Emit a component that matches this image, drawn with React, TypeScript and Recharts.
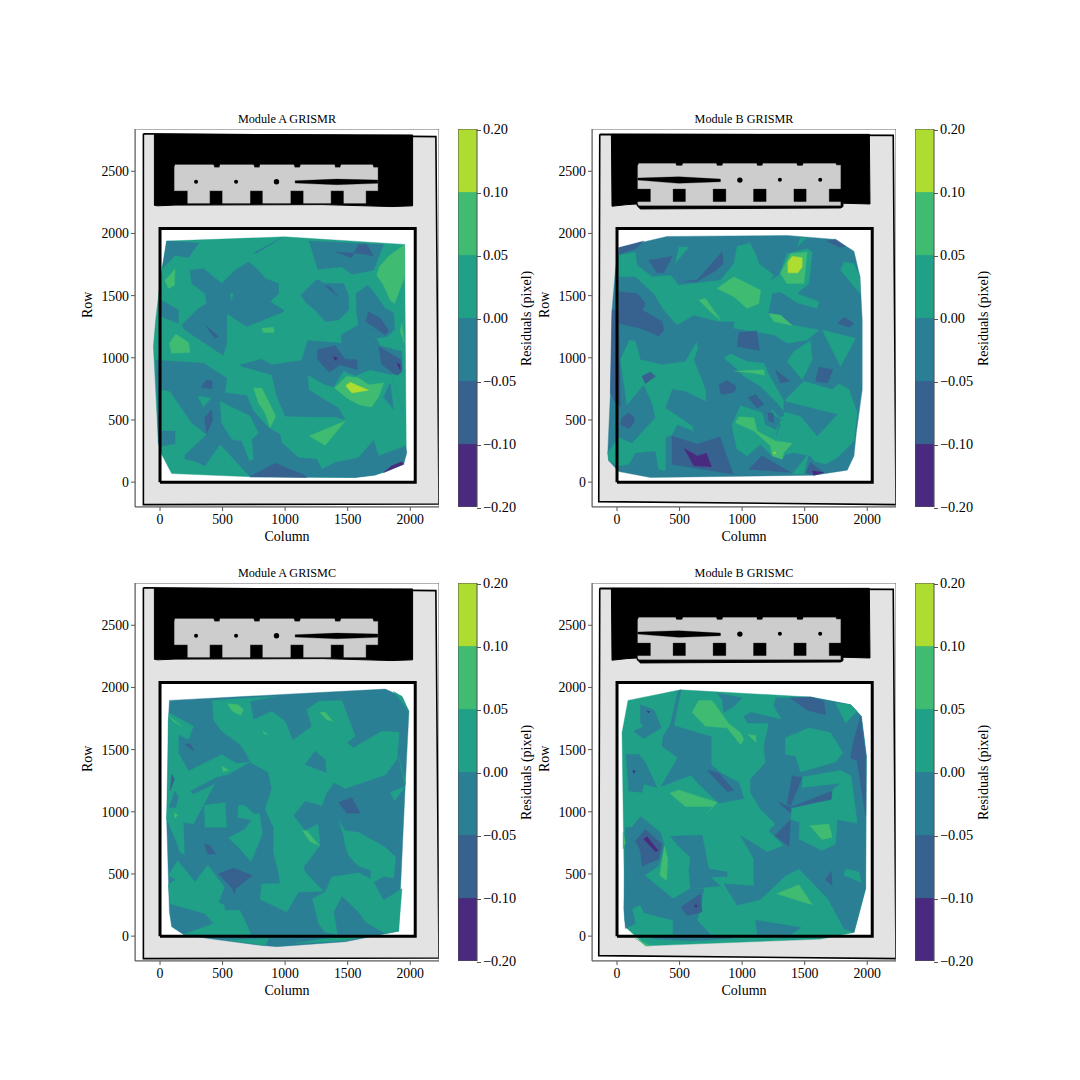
// Residual maps for the four grism modes, drawn as layered filled contours
import { ScatterChart, Scatter, XAxis, YAxis } from "recharts"

type Pt = number[]
type Contour = [number, Pt[]]

const FONT = "'Liberation Serif', serif"

const xTicks = [0, 500, 1000, 1500, 2000]
const yTicks = [0, 500, 1000, 1500, 2000, 2500]
const xDomain = [-200, 2230]
const yDomain = [-200, 2840]

const bandLabels = ["\u22120.20", "\u22120.10", "\u22120.05", "0.00", "0.05", "0.10", "0.20"]
const bandColors = ["#4a2a7e", "#37618f", "#2a7f94", "#21a088", "#40bb72", "#aedc30"]
const bandTicks = [0, 1, 2, 3, 4, 5, 6]

const plotBox: Pt[] = [[-200, -200], [2230, -200], [2230, 2840], [-200, 2840]]
const detectorBox: Pt[] = [[0, 0], [2040, 0], [2040, 2040], [0, 2040]]

// mask outline, module A
const frameA: Pt[] = [[-133, 2802], [2205, 2779], [2230, -176], [-133, -181]]
const blackA: Pt[] = [[-45, 2797], [2019, 2792], [2019, 2222], [1853, 2216], [1300, 2232], [120, 2228], [-20, 2222], [-45, 2226]]
const openingA: Pt[] = [
  [115, 2531], [120, 2552], [427, 2552], [435, 2531], [475, 2531], [480, 2552], [747, 2552], [755, 2531], [795, 2531], [800, 2552],
  [1069, 2552], [1077, 2531], [1117, 2531], [1125, 2552], [1395, 2552], [1400, 2531], [1440, 2531], [1448, 2552], [1699, 2552], [1707, 2531],
  [1741, 2531], [1741, 2344], [1645, 2344], [1645, 2243], [1469, 2243], [1469, 2344], [1365, 2344], [1365, 2243], [1147, 2243], [1147, 2344],
  [1043, 2344], [1043, 2243], [821, 2243], [821, 2344], [720, 2344], [720, 2243], [499, 2243], [499, 2344], [397, 2344], [397, 2243],
  [221, 2243], [221, 2344], [115, 2344],
]
const slitA: Pt[] = [[1080, 2424], [1413, 2437], [1741, 2429], [1741, 2403], [1413, 2392], [1080, 2405]]
const holesA: Pt[] = [[288, 2416], [608, 2416]]
const bigHolesA: Pt[] = [[931, 2416]]

// mask outline, module B
const frameB: Pt[] = [[-138, 2797], [2208, 2789], [2230, -181], [-146, -157]]
const blackB: Pt[] = [[-45, 2797], [2017, 2797], [2022, 2237], [1806, 2243], [1806, 2216], [1787, 2205], [187, 2197], [160, 2224], [160, 2237], [80, 2232], [-40, 2219]]
const openingB: Pt[] = [
  [166, 2544], [174, 2563], [467, 2563], [475, 2544], [520, 2544], [528, 2563], [792, 2563], [800, 2544], [840, 2544], [848, 2563],
  [1115, 2563], [1120, 2544], [1160, 2544], [1168, 2563], [1435, 2563], [1440, 2544], [1483, 2544], [1491, 2563], [1747, 2563], [1755, 2549],
  [1787, 2549], [1787, 2224], [174, 2224], [166, 2237],
]
const padsB: Pt[][] = [
  [[160, 2357], [267, 2357], [267, 2256], [160, 2256]],
  [[448, 2357], [547, 2357], [547, 2256], [448, 2256]],
  [[768, 2357], [870, 2357], [870, 2256], [768, 2256]],
  [[1091, 2357], [1192, 2357], [1192, 2256], [1091, 2256]],
  [[1414, 2357], [1512, 2357], [1512, 2256], [1414, 2256]],
  [[1696, 2357], [1793, 2357], [1793, 2256], [1696, 2256]],
]
const slitB: Pt[] = [[166, 2445], [494, 2456], [827, 2437], [827, 2416], [494, 2403], [166, 2429]]
const holesB: Pt[] = [[1302, 2432], [1624, 2432]]
const bigHolesB: Pt[] = [[982, 2429]]

// band index 0..5 and the outline of each filled region, painted in order
const contoursAR: Contour[] = [
  [3, [[53, 1939], [995, 1973], [1955, 1912], [1968, 291], [1947, 144], [1787, 77], [1693, 56], [1560, 37], [720, 43], [93, 69], [8, 232], [-13, 317], [-53, 1091], [-35, 1304], [13, 1704]]],
  [2, [[53, 1939], [312, 1923], [227, 1805], [120, 1824], [19, 1717]]],
  [2, [[747, 1843], [973, 1965], [773, 1843]]],
  [2, [[1192, 1939], [1787, 1912], [1733, 1771], [1707, 1704], [1533, 1672], [1453, 1731], [1261, 1712]]],
  [1, [[1405, 1851], [1533, 1805], [1587, 1912], [1653, 1912], [1707, 1819], [1619, 1837]]],
  [4, [[1955, 1912], [1827, 1816], [1752, 1731], [1733, 1664], [1787, 1584], [1840, 1464], [1875, 1437], [1955, 1651]]],
  [4, [[40, 1624], [120, 1712], [115, 1584], [67, 1557]]],
  [2, [[240, 1704], [347, 1717], [493, 1597], [600, 1704], [707, 1771], [787, 1704], [840, 1637], [947, 1597], [947, 1517], [880, 1451], [987, 1384], [987, 1371], [693, 1251], [533, 1357], [533, 1117], [507, 1019], [200, 1224], [173, 1264], [293, 1384], [373, 1437], [360, 1517], [253, 1597]]],
  [3, [[560, 1517], [587, 1517], [573, 1464]]],
  [2, [[8, 1464], [147, 1384], [147, 1277], [13, 1331]]],
  [2, [[1125, 1504], [1253, 1629], [1320, 1597], [1467, 1597], [1507, 1504], [1507, 1384], [1427, 1304], [1320, 1291], [1240, 1384], [1173, 1437]]],
  [1, [[1320, 1579], [1360, 1571], [1421, 1491]]],
  [2, [[1565, 1517], [1661, 1584], [1707, 1531], [1800, 1397], [1867, 1363], [1875, 1224], [1813, 1171], [1733, 1157], [1587, 1264], [1568, 1384], [1573, 1411]]],
  [1, [[1645, 1291], [1667, 1371], [1760, 1317], [1827, 1219], [1800, 1184], [1707, 1251]]],
  [2, [[640, 944], [813, 989], [893, 944], [1133, 979], [1181, 1139], [1453, 1117], [1448, 1184], [1587, 1264], [1733, 1149], [1760, 1096], [1933, 1051], [1947, 531], [1853, 864], [1680, 904], [1560, 856], [1467, 896], [1387, 765], [1320, 784], [1181, 864], [1187, 744], [1320, 659], [1427, 597], [1475, 504], [1400, 525], [1187, 525], [1000, 531], [933, 691], [893, 864], [653, 931]]],
  [1, [[1261, 1064], [1400, 1096], [1480, 989], [1573, 984], [1579, 904], [1440, 944], [1352, 883], [1261, 984]]],
  [0, [[1387, 1011], [1419, 997], [1400, 979]]],
  [1, [[1747, 1091], [1928, 984], [1939, 584], [1920, 837], [1773, 944]]],
  [0, [[1893, 957], [1920, 944], [1920, 904]]],
  [3, [[1853, 864], [1947, 531], [1960, 900], [1900, 860]]],
  [2, [[1840, 797], [1787, 685], [1867, 584]]],
  [4, [[1395, 757], [1493, 851], [1587, 837], [1667, 784], [1787, 797], [1747, 685], [1688, 603], [1587, 624], [1493, 677]]],
  [5, [[1485, 776], [1520, 803], [1667, 739], [1533, 717]]],
  [4, [[1933, 1277], [1955, 1117], [1920, 1211]]],
  [4, [[75, 1117], [125, 1189], [227, 1125], [240, 1043], [93, 1037]]],
  [4, [[813, 1237], [907, 1245], [912, 1203], [827, 1203]]],
  [1, [[360, 1264], [467, 1171], [440, 1157]]],
  [2, [[-35, 984], [8, 979], [8, 264], [-13, 317]]],
  [2, [[8, 979], [347, 957], [533, 837], [520, 717], [693, 696], [747, 571], [867, 437], [960, 384], [973, 317], [1107, 197], [1253, 184], [1293, 104], [1400, 157], [1587, 197], [1707, 336], [1747, 211], [1965, 291], [1973, 237], [1947, 144], [1720, 56], [1560, 37], [720, 43], [480, 304], [360, 131], [267, 171], [200, 184], [200, 219], [373, 384], [253, 477], [80, 731], [8, 744]]],
  [1, [[720, 43], [920, 152], [1147, 59], [1173, 37]]],
  [0, [[1787, 77], [1947, 144], [1933, 163], [1853, 131]]],
  [3, [[480, 651], [640, 571], [720, 531], [787, 392], [733, 344], [747, 184], [715, 171], [653, 331], [573, 344], [493, 477]]],
  [1, [[413, 584], [419, 491], [373, 392], [355, 517]]],
  [1, [[328, 765], [373, 824], [419, 811], [413, 749]]],
  [3, [[301, 691], [408, 677], [347, 605]]],
  [2, [[13, 411], [120, 411], [120, 309], [13, 291]]],
  [4, [[1192, 371], [1480, 491], [1360, 344], [1320, 296]]],
  [4, [[747, 757], [813, 757], [925, 531], [880, 437], [840, 557], [787, 637]]],
]

const contoursBR: Contour[] = [
  [2, [[14, 1885], [400, 1976], [1360, 1984], [1747, 1952], [1894, 1856], [1942, 1651], [1960, 1304], [1960, 744], [1913, 397], [1894, 211], [1840, 96], [1574, 56], [267, 37], [14, 85], [-66, 171], [-74, 237], [-53, 717], [-40, 1384], [-13, 1704]]],
  [3, [[14, 1824], [147, 1851], [160, 1744], [280, 1651], [427, 1664], [494, 1584], [614, 1597], [827, 1624], [934, 1757], [960, 1896], [1062, 1923], [1107, 1837], [1134, 1757], [1254, 1664], [1214, 1611], [1294, 1664], [1360, 1837], [1520, 1877], [1560, 1851], [1534, 1597], [1440, 1517], [1614, 1451], [1600, 1397], [1440, 1442], [1307, 1531], [1240, 1517], [1214, 1384], [1206, 1357], [1400, 1264], [1614, 1224], [1520, 1144], [1360, 1117], [1254, 1184], [934, 1237], [939, 1291], [814, 1291], [614, 1344], [480, 1264], [374, 1384], [294, 1517], [147, 1651], [14, 1651]]],
  [1, [[14, 1885], [214, 1939], [147, 1877], [27, 1837]]],
  [1, [[1747, 1952], [1827, 1896], [1774, 1891], [1675, 1939]]],
  [1, [[254, 1784], [440, 1816], [374, 1683], [320, 1683]]],
  [1, [[640, 1624], [840, 1851], [848, 1757], [774, 1691], [627, 1611], [534, 1616]]],
  [3, [[467, 1763], [494, 1891], [574, 1891]]],
  [3, [[1440, 1896], [1520, 1965], [1467, 1965]]],
  [3, [[1787, 1704], [1814, 1771], [1894, 1757], [1942, 1651], [1942, 1517]]],
  [4, [[800, 1557], [934, 1651], [1147, 1544], [1134, 1437], [1040, 1397], [934, 1491]]],
  [4, [[654, 1464], [707, 1477], [827, 1304], [747, 1371]]],
  [4, [[1307, 1677], [1387, 1837], [1520, 1851], [1494, 1597], [1360, 1597]]],
  [5, [[1366, 1771], [1400, 1816], [1480, 1805], [1480, 1731], [1446, 1683], [1366, 1683]]],
  [4, [[1214, 1357], [1307, 1344], [1400, 1259], [1254, 1291]]],
  [1, [[14, 1531], [160, 1517], [227, 1437], [200, 1384], [360, 1291], [374, 1224], [334, 1176], [187, 1237], [14, 1277]]],
  [1, [[-40, 1384], [14, 1384], [27, 611], [-13, 637], [-53, 717]]],
  [3, [[14, 357], [120, 312], [307, 517], [280, 637], [214, 784], [80, 624], [27, 984], [102, 1144], [147, 1131], [187, 984], [360, 944], [547, 971], [635, 1125], [646, 1077], [614, 984], [707, 744], [712, 651], [547, 731], [440, 749], [387, 597], [600, 451], [614, 411], [480, 464], [440, 384], [387, 357], [387, 91], [334, 104], [307, 251], [147, 237], [94, 144], [14, 131], [-66, 171], [-74, 237]]],
  [1, [[40, 517], [94, 557], [139, 517], [134, 477], [94, 429], [27, 464]]],
  [1, [[200, 851], [267, 885], [307, 851], [227, 792]]],
  [3, [[854, 997], [907, 1032], [1040, 971], [1174, 957], [1214, 864], [1334, 651], [1334, 571], [1280, 637], [1147, 771], [1014, 851], [934, 931]]],
  [4, [[939, 891], [1174, 904], [1179, 859], [1094, 877]]],
  [1, [[1267, 904], [1382, 811], [1307, 797]]],
  [3, [[1347, 664], [1494, 811], [1720, 744], [1774, 792], [1854, 744], [1920, 557], [1894, 331], [1760, 197], [1667, 144], [1574, 171], [1547, 211], [1414, 237], [1360, 224], [1294, 264], [1280, 397], [1307, 451], [1294, 517], [1334, 531]]],
  [2, [[1334, 651], [1760, 544], [1600, 371], [1467, 531], [1334, 571]]],
  [3, [[1360, 971], [1414, 1051], [1547, 1139], [1560, 984], [1480, 824]]],
  [3, [[1640, 1224], [1907, 1157], [1787, 931]]],
  [1, [[1587, 811], [1614, 925], [1726, 904], [1680, 797]]],
  [1, [[1760, 1277], [1814, 1325], [1894, 1277], [1854, 1245]]],
  [1, [[974, 1203], [1115, 1216], [1139, 1059], [960, 1091]]],
  [1, [[814, 784], [880, 816], [955, 771], [934, 723], [832, 704]]],
  [1, [[1048, 677], [1107, 704], [1174, 624], [1120, 597]]],
  [3, [[920, 464], [987, 616], [1160, 557], [1187, 464], [1240, 584], [1307, 504], [1267, 384], [1408, 312], [1320, 184], [1227, 224], [1147, 304], [1040, 211], [960, 264], [928, 397]]],
  [2, [[1174, 584], [1312, 504], [1267, 424], [1187, 464]]],
  [1, [[1206, 557], [1248, 557], [1254, 477], [1214, 491]]],
  [4, [[947, 477], [974, 525], [1094, 517], [1120, 411], [1267, 331], [1400, 312], [1334, 237], [1320, 184], [1240, 211], [1227, 291], [1094, 411]]],
  [5, [[1254, 243], [1270, 237], [1254, 224]]],
  [1, [[440, 371], [640, 304], [822, 365], [928, 64], [440, 144]]],
  [0, [[539, 269], [640, 211], [715, 232], [755, 123], [614, 131]]],
  [1, [[1054, 104], [1160, 211], [1387, 77]]],
  [3, [[1400, 64], [1534, 232], [1494, 64]]],
  [1, [[1507, 77], [1547, 157], [1654, 77], [1574, 56]]],
  [0, [[1560, 91], [1654, 77], [1574, 56]]],
]

const contoursAC: Contour[] = [
  [2, [[75, 1896], [1800, 1987], [1934, 1928], [1990, 1808], [1960, 1208], [1907, 40], [1480, -45], [933, -85], [787, -72], [387, -19], [187, 13], [93, 75], [75, 195], [53, 941], [67, 1741]]],
  [3, [[419, 1896], [427, 1741], [493, 1648], [640, 1541], [693, 1461], [720, 1400], [867, 1315], [893, 1181], [840, 1021], [907, 875], [907, 675], [947, 515], [960, 421], [813, 421], [800, 296], [1013, 195], [1107, 355], [1307, 360], [1160, 515], [1147, 555], [1280, 728], [1261, 901], [1160, 848], [1067, 968], [1160, 1088], [1293, 1048], [1333, 1155], [1392, 1235], [1480, 1187], [1800, 1296], [1894, 1421], [1912, 1640], [1773, 1648], [1547, 1515], [1493, 1555], [1560, 1608], [1453, 1896], [1267, 1888], [1173, 1821], [1213, 1688], [1061, 1573], [1000, 1728], [893, 1808], [747, 1741], [720, 1888]]],
  [3, [[419, 1896], [720, 1888], [920, 1928]]],
  [2, [[1160, 1381], [1240, 1488], [1320, 1421], [1328, 1315]]],
  [2, [[1027, 1795], [1067, 1848], [1067, 1763]]],
  [4, [[539, 1869], [627, 1861], [667, 1821], [645, 1776], [579, 1808]]],
  [4, [[1275, 1800], [1320, 1800], [1381, 1728], [1333, 1741]]],
  [4, [[827, 1648], [859, 1621], [827, 1629]]],
  [1, [[200, 1541], [240, 1547], [272, 1488]]],
  [3, [[75, 1795], [267, 1688], [227, 1581], [147, 1621], [147, 1475], [227, 1328], [493, 1461], [613, 1389], [720, 1400], [547, 1301], [453, 1280], [240, 1168], [267, 1141], [435, 1221], [267, 901], [187, 915], [195, 661], [160, 675], [133, 755], [53, 941], [67, 1288], [67, 1741]]],
  [1, [[93, 1301], [115, 1261], [80, 1168]]],
  [2, [[120, 1168], [147, 1115], [125, 1035], [72, 1035]]],
  [4, [[112, 995], [141, 973], [120, 949]]],
  [4, [[493, 1368], [547, 1336], [507, 1320]]],
  [4, [[72, 1768], [173, 1688], [107, 1728]]],
  [3, [[355, 1053], [520, 1075], [533, 875], [360, 875]]],
  [3, [[627, 1053], [675, 1053], [755, 981], [795, 987], [819, 821], [728, 600], [627, 715], [547, 789], [680, 861], [733, 936], [621, 955]]],
  [3, [[67, 488], [141, 608], [280, 435], [381, 573], [515, 395], [467, 275], [512, 248], [520, 208], [640, 208], [728, 13], [187, 13], [427, 101], [360, 181], [80, 261], [67, 413], [125, 456]]],
  [3, [[1427, 936], [1480, 848], [1587, 835], [1800, 715], [1885, 635], [1867, 469], [1787, 480], [1707, 435], [1787, 288], [1934, 381], [1907, 40], [1800, 21], [1640, 115], [1587, 195], [1453, 323], [1387, 195], [1419, 13], [1320, 29], [1267, 101], [1219, 301], [1320, 355], [1373, 475], [1587, 509], [1680, 461], [1688, 528], [1587, 563], [1507, 648], [1480, 728], [1467, 808]]],
  [4, [[1139, 848], [1173, 848], [1272, 728], [1200, 760]]],
  [1, [[1427, 1075], [1533, 1115], [1600, 989], [1493, 989]]],
  [1, [[467, 501], [587, 547], [739, 488], [605, 381], [595, 341], [579, 381]]],
  [1, [[355, 741], [400, 728], [445, 661], [381, 661]]],
  [3, [[1840, 1155], [1960, 1203], [1875, 1088]]],
  [3, [[547, -32], [840, -77], [867, -19]]],
  [3, [[1080, -59], [1480, -37], [1627, -5], [1320, -19]]],
  [3, [[1867, 1968], [1934, 1928], [1987, 1808], [1920, 1901]]],
  [3, [[1907, 1448], [1965, 1221], [1955, 1221]]],
]

const contoursBC: Contour[] = [
  [3, [[88, 1896], [507, 1981], [1547, 1923], [1867, 1861], [1953, 1768], [1993, 1448], [1987, 381], [1894, 29], [1627, -24], [235, -78], [80, 61], [62, 128], [40, 1635]]],
  [2, [[187, 1861], [294, 1821], [355, 1675], [214, 1589], [134, 1648], [214, 1688], [187, 1715]]],
  [2, [[72, 1461], [174, 1461], [227, 1395], [320, 1195], [214, 1221], [200, 1155], [94, 1168]]],
  [2, [[486, 1968], [512, 1981], [454, 1693], [752, 1603], [752, 1381], [827, 1315], [974, 1235], [1014, 1107], [814, 1069], [654, 1221], [592, 1296], [352, 1203], [486, 1435], [360, 1528], [368, 1608], [427, 1701]]],
  [1, [[720, 1336], [814, 1309], [934, 1173], [880, 1163], [787, 1261]]],
  [2, [[800, 1955], [1000, 1915], [934, 1848], [854, 1800], [840, 1901]]],
  [2, [[1014, 1768], [1067, 1800], [1320, 1741], [1227, 1715], [1040, 1715]]],
  [2, [[1267, 1915], [1547, 1923], [1867, 1861], [1953, 1768], [1993, 1448], [1987, 381], [1894, 29], [1814, 61], [1686, 301], [1454, 541], [1347, 488], [1147, 296], [960, 248], [854, 421], [1094, 403], [1094, 621], [987, 808], [1120, 728], [1200, 675], [1334, 728], [1214, 848], [1267, 901], [1147, 1021], [1067, 1155], [1067, 1261], [1187, 1395], [1174, 1528], [1214, 1715], [1320, 1741], [1254, 1848]]],
  [3, [[1747, 1875], [1867, 1861], [1920, 1808], [1827, 1715]]],
  [3, [[1347, 1595], [1534, 1675], [1707, 1635], [1806, 1475], [1747, 1400], [1467, 1320], [1427, 1448], [1347, 1461]]],
  [3, [[1480, 1280], [1787, 1333], [1872, 1288], [1920, 909], [1760, 936], [1747, 741], [1640, 688], [1454, 781], [1459, 915], [1387, 941], [1400, 1027], [1712, 1096], [1712, 1168], [1787, 1229], [1480, 1195]]],
  [1, [[1387, 1035], [1720, 1168], [1712, 1101]]],
  [1, [[1360, 1061], [1400, 1288], [1480, 1275], [1387, 1048]]],
  [1, [[1286, 1080], [1387, 1035], [1387, 989]]],
  [1, [[1262, 808], [1387, 936], [1374, 723]]],
  [4, [[1542, 888], [1694, 901], [1720, 795], [1640, 776]]],
  [3, [[1814, 488], [1827, 541], [1934, 515], [1953, 429], [1854, 475]]],
  [1, [[1667, 456], [1712, 523], [1720, 408]]],
  [2, [[1107, 128], [1472, 69], [1387, 13], [1120, 13]]],
  [4, [[1275, 341], [1454, 413], [1560, 253], [1360, 315]]],
  [1, [[1387, 1915], [1547, 1923], [1654, 1888], [1667, 1781], [1520, 1816]]],
  [1, [[1947, 1768], [1987, 1448], [1987, 968], [1920, 1408], [1867, 1435], [1894, 1581]]],
  [2, [[67, 875], [120, 875], [187, 963], [347, 835], [379, 728], [334, 568], [222, 488], [448, 301], [587, 381], [694, 381], [667, 221], [640, 128], [747, 13], [448, 13], [448, 128], [214, 189], [187, 253], [120, 221], [147, 101], [67, 61], [54, 221]]],
  [2, [[427, 803], [680, 813], [734, 541], [880, 515], [880, 480], [747, 475], [827, 403], [587, 381], [574, 528], [587, 635], [486, 728]]],
  [1, [[147, 768], [227, 856], [360, 741], [334, 621], [200, 563], [187, 688]]],
  [0, [[214, 781], [240, 800], [328, 688], [307, 680]]],
  [4, [[342, 488], [379, 728], [406, 621], [395, 448]]],
  [1, [[512, 235], [667, 341], [680, 195], [560, 163]]],
  [0, [[619, 248], [640, 248], [632, 227]]],
  [4, [[422, 1149], [494, 1176], [800, 1075], [720, 989], [774, 1043], [547, 1043]]],
  [4, [[600, 1800], [654, 1896], [760, 1896], [894, 1709], [987, 1635], [1014, 1581], [987, 1541], [880, 1675], [707, 1688]]],
  [4, [[1046, 1621], [1107, 1613], [1112, 1560]]],
  [4, [[147, -19], [267, -78], [227, -78], [187, -45]]],
  [2, [[267, -19], [427, 8], [747, 8], [934, -19], [587, -40]]],
  [4, [[48, 835], [67, 755], [48, 701]]],
  [0, [[240, 1808], [262, 1808], [251, 1795]]],
  [0, [[126, 1333], [147, 1328], [134, 1309]]],
]

const NoMark = () => null
const SmallHole = (p: any) => <circle cx={p.cx} cy={p.cy} r={2} fill="#000" />
const BigHole = (p: any) => <circle cx={p.cx} cy={p.cy} r={2.7} fill="#000" />

const asData = (pts: Pt[]) => [...pts, pts[0]].map(([x, y]) => ({ x, y }))

// a closed outline drawn as the joining line of a scatter series, so it goes through the axis scales
function region(key: string, pts: Pt[], fill: string, stroke: string, strokeWidth: number) {
  return (
    <Scatter
      key={key}
      data={asData(pts)}
      line={{ fill, stroke, strokeWidth, strokeLinejoin: "miter" }}
      shape={NoMark}
      legendType="none"
      isAnimationActive={false}
    />
  )
}

const tickStyle = { fontSize: 13.8, fill: "#000", fontFamily: FONT }
const labelStyle = { fontSize: 14, fill: "#000", fontFamily: FONT }

interface PanelProps {
  title: string
  left: number
  top: number
  module: "A" | "B"
  contours: Contour[]
}

function Panel({ title, left, top, module, contours }: PanelProps) {
  const isA = module === "A"
  return (
    <div style={{ position: "absolute", left: left - 60, top: top - 5 }}>
      <ScatterChart width={369} height={428} margin={{ top: 5, right: 5, bottom: 0, left: 0 }}>
        <XAxis
          type="number"
          dataKey="x"
          domain={xDomain}
          ticks={xTicks}
          interval={0}
          allowDataOverflow
          height={45}
          tickSize={4}
          tickMargin={3}
          tick={tickStyle}
          stroke="#555"
          label={{ value: "Column", position: "insideBottom", offset: 11, style: labelStyle }}
        />
        <YAxis
          type="number"
          dataKey="y"
          domain={yDomain}
          ticks={yTicks}
          interval={0}
          allowDataOverflow
          width={60}
          tickSize={4}
          tickMargin={2}
          tick={tickStyle}
          stroke="#555"
          label={{ value: "Row", angle: -90, position: "insideLeft", offset: 12, style: labelStyle }}
        />
        {region("frame", isA ? frameA : frameB, "#e3e3e3", "#000", 1.6)}
        {region("black", isA ? blackA : blackB, "#000", "#000", 1)}
        {region("opening", isA ? openingA : openingB, "#cdcdcd", "#cdcdcd", 0.3)}
        {!isA && padsB.map((pad, i) => region(`pad${i}`, pad, "#000", "#000", 0.3))}
        {region("slit", isA ? slitA : slitB, "#000", "#000", 0.3)}
        <Scatter data={asData(isA ? holesA : holesB).slice(0, -1)} shape={SmallHole} isAnimationActive={false} />
        <Scatter data={asData(isA ? bigHolesA : bigHolesB).slice(0, -1)} shape={BigHole} isAnimationActive={false} />
        {region("detector", detectorBox, "#fff", "none", 0)}
        {contours.map(([band, pts], i) => region(`c${i}`, pts, bandColors[band], bandColors[band], 0.4))}
        {region("edge", detectorBox, "none", "#000", 3)}
        {region("box", plotBox, "none", "#666", 1)}
      </ScatterChart>
      <div
        style={{
          position: "absolute",
          left: 60,
          top: -12,
          width: 304,
          textAlign: "center",
          fontFamily: FONT,
          fontSize: 12.2,
          lineHeight: "14px",
          color: "#000",
        }}
      >
        {title}
      </div>
    </div>
  )
}

function ColorBar({ left, top }: { left: number; top: number }) {
  return (
    <div style={{ position: "absolute", left, top: top - 5 }}>
      <ScatterChart width={90} height={388} margin={{ top: 5, right: 71, bottom: 5, left: 0 }}>
        <XAxis type="number" dataKey="x" domain={[0, 1]} hide />
        <YAxis
          type="number"
          dataKey="y"
          orientation="right"
          domain={[0, 6]}
          ticks={bandTicks}
          interval={0}
          allowDataOverflow
          width={0}
          tick={false}
          axisLine={false}
          tickLine={false}
        />
        {bandColors.map((color, i) =>
          region(`band${i}`, [[0, i], [1, i], [1, i + 1], [0, i + 1]], color, color, 0.3),
        )}
        {region("outline", [[0, 0], [1, 0], [1, 6], [0, 6]], "none", "#555", 1)}
      </ScatterChart>
      {bandLabels.map((text, i) => (
        <div
          key={text}
          style={{
            position: "absolute",
            left: 19,
            top: 5 + (378 * (6 - i)) / 6 - 8,
            height: 16,
            lineHeight: "16px",
            whiteSpace: "nowrap",
            fontFamily: FONT,
            fontSize: 14.3,
            color: "#000",
          }}
        >
          <span style={{ display: "inline-block", width: 4, height: 1, background: "#555", verticalAlign: "middle", marginRight: 2 }} />
          {text}
        </div>
      ))}
      <div
        style={{
          position: "absolute",
          left: 62,
          top: 5,
          height: 378,
          writingMode: "vertical-rl",
          transform: "rotate(180deg)",
          textAlign: "center",
          fontFamily: FONT,
          fontSize: 14,
          color: "#000",
          lineHeight: "14px",
        }}
      >
        Residuals (pixel)
      </div>
    </div>
  )
}

export default function App() {
  return (
    <div style={{ position: "absolute", left: 0, top: 0, width: 1080, height: 1080, background: "#fff", overflow: "hidden" }}>
      <Panel title="Module A GRISMR" left={135} top={129} module="A" contours={contoursAR} />
      <ColorBar left={458} top={129} />
      <Panel title="Module B GRISMR" left={592} top={129} module="B" contours={contoursBR} />
      <ColorBar left={915} top={129} />
      <Panel title="Module A GRISMC" left={135} top={583} module="A" contours={contoursAC} />
      <ColorBar left={458} top={583} />
      <Panel title="Module B GRISMC" left={592} top={583} module="B" contours={contoursBC} />
      <ColorBar left={915} top={583} />
    </div>
  )
}
